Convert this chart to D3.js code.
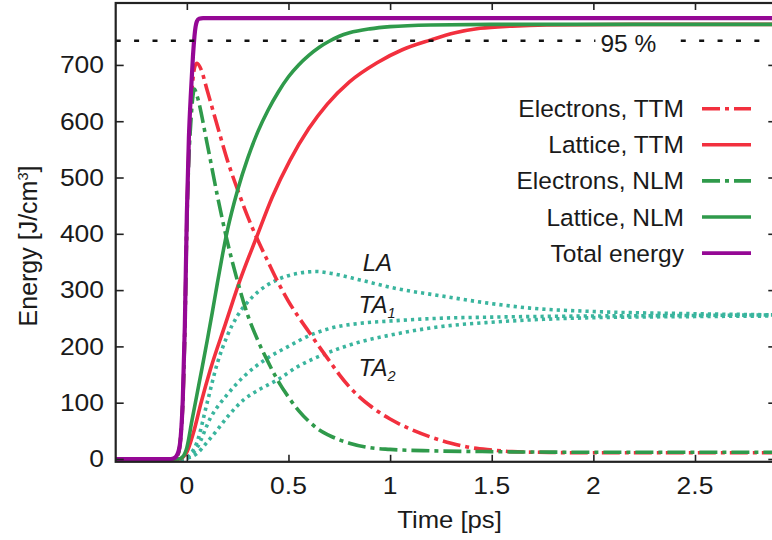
<!DOCTYPE html>
<html>
<head>
<meta charset="utf-8">
<script src="https://cdn.jsdelivr.net/npm/d3@7"></script>
<style>
  body { margin: 0; background: #fff; }
  svg { display: block; }
</style>
</head>
<body>
<svg id="chart" width="772" height="540"></svg>
<script>
// ---- data: energy [J/cm^3] vs time [ps] ----
const xTicks = [0, 0.5, 1, 1.5, 2, 2.5];
const xTickLabels = ["0", "0.5", "1", "1.5", "2", "2.5"];
const yTicks = [0, 100, 200, 300, 400, 500, 600, 700];
const yTickLabels = ["0", "100", "200", "300", "400", "500", "600", "700"];
const level95 = 743;
const level95Label = "95 %";

const electronsTTM = [[-0.35,0],[-0.06,0],[-0.04,12],[-0.03,40],[-0.02,100],[-0.01,228],[0,425],[0.01,550],[0.02,625],[0.03,675],[0.04,698],[0.05,703],[0.07,692],[0.1,655],[0.15,592],[0.2,530],[0.25,478],[0.3,430],[0.35,388],[0.4,350],[0.45,313],[0.5,280],[0.55,252],[0.6,226],[0.65,200],[0.7,175],[0.75,150],[0.8,128],[0.85,110],[0.9,95],[0.95,82],[1.0,71],[1.1,53],[1.2,39],[1.3,28],[1.4,20],[1.5,16],[1.6,13],[1.8,11.5],[2.0,11],[2.9,11]];
const latticeTTM = [[-0.35,0],[-0.04,0],[-0.02,3],[0,12],[0.032,46],[0.07,100],[0.115,158],[0.19,240],[0.262,318],[0.344,395],[0.42,465],[0.508,531],[0.6,587],[0.69,630],[0.8,670],[0.936,704],[1.06,727],[1.197,744],[1.32,757],[1.443,765],[1.6,769],[1.77,771],[2.2,772],[2.9,772]];
const electronsNLM = [[-0.35,0],[-0.06,0],[-0.04,12],[-0.03,40],[-0.02,100],[-0.01,225],[0,415],[0.01,535],[0.02,600],[0.03,645],[0.037,657],[0.05,645],[0.1,560],[0.15,468],[0.2,385],[0.25,315],[0.3,255],[0.35,210],[0.4,172],[0.45,138],[0.5,110],[0.55,86],[0.6,67],[0.65,52],[0.7,42],[0.8,28],[0.9,20],[1.0,17],[1.2,14.5],[1.5,13],[2.0,12],[2.9,12]];
const latticeNLM = [[-0.35,0],[-0.04,0],[-0.02,4],[0,20],[0.025,68],[0.05,115],[0.075,162],[0.1,210],[0.125,260],[0.15,312],[0.175,362],[0.2,407],[0.25,478],[0.3,535],[0.35,582],[0.4,620],[0.45,652],[0.5,679],[0.55,700],[0.6,717],[0.65,731],[0.7,742],[0.75,751],[0.8,757],[0.9,764],[1.0,768],[1.2,771],[1.5,772],[2.9,772]];
const totalEnergy = [[-0.35,0],[-0.08,0],[-0.06,2],[-0.04,15],[-0.03,40],[-0.02,105],[-0.01,235],[0,435],[0.01,570],[0.02,650],[0.03,715],[0.04,760],[0.05,778],[0.06,782],[0.08,783],[2.9,783]];
const phononLA = [[-0.35,0],[-0.02,0],[0,3],[0.05,30],[0.1,100],[0.15,170],[0.197,217],[0.25,255],[0.295,277],[0.35,297],[0.443,318],[0.55,330],[0.639,333],[0.705,330],[0.852,318],[1.0,305],[1.246,290],[1.5,276],[1.689,268],[2.0,262],[2.5,258],[2.9,256]];
const phononTA1 = [[-0.35,0],[-0.02,0],[0,2],[0.05,20],[0.115,72],[0.2,115],[0.279,146],[0.4,180],[0.5,200],[0.607,220],[0.705,232],[0.852,241],[1.0,245],[1.246,250],[1.5,252],[1.689,253],[2.0,254],[2.5,255],[2.9,256]];
const phononTA2 = [[-0.35,0],[-0.02,0],[0,1],[0.05,10],[0.1,30],[0.148,51],[0.2,75],[0.279,105],[0.35,122],[0.443,140],[0.55,165],[0.689,188],[0.852,208],[1.0,220],[1.246,235],[1.5,243],[1.689,247],[2.0,251],[2.5,253],[2.9,254]];

const legendNames = ["Electrons, TTM", "Lattice, TTM", "Electrons, NLM", "Lattice, NLM", "Total energy"];

// ---- styling ----
const RED = "#f2303e", GREEN = "#2f9a4b", PURPLE = "#950895", TEAL = "#3ab59e";
const FONT = "'Liberation Sans', Arial, Helvetica, sans-serif";
const DASHDOT = "18,5,4,5";

const plot = { left: 115.7, top: 3, right: 776.3, bottom: 461.8 };

const svg = d3.select("#chart");
const x = d3.scaleLinear().domain([-0.35, 2.9]).range([plot.left, plot.right]);
const y = d3.scaleLinear().domain([-5, 810]).range([plot.bottom, plot.top]);

svg.append("defs").append("clipPath").attr("id", "plotclip")
  .append("rect").attr("x", plot.left).attr("y", plot.top)
  .attr("width", plot.right - plot.left).attr("height", plot.bottom - plot.top);

// text placed at (px, py); sx widens the glyphs horizontally about the anchor
function label(parent, px, py, txt, anchor, size, sx) {
  return parent.append("text")
    .attr("transform", `translate(${px},${py}) scale(${sx || 1},1)`)
    .attr("text-anchor", anchor || "start")
    .attr("font-family", FONT)
    .attr("font-size", size)
    .attr("fill", "#1a1a1a")
    .text(txt);
}

// ---- curves ----
const line = d3.line().x(d => x(d[0])).y(d => y(d[1])).curve(d3.curveMonotoneX);
const curves = svg.append("g").attr("clip-path", "url(#plotclip)");

const series = [
  { data: phononLA,  color: TEAL,   dash: "3.2,4", width: 3.6 },
  { data: phononTA1, color: TEAL,   dash: "3.2,4", width: 3.6 },
  { data: phononTA2, color: TEAL,   dash: "3.2,4", width: 3.6 },
  { data: electronsTTM, color: RED,   dash: DASHDOT, width: 3.6 },
  { data: latticeTTM,   color: RED,   dash: null,    width: 3.6 },
  { data: electronsNLM, color: GREEN, dash: DASHDOT, width: 3.6 },
  { data: latticeNLM,   color: GREEN, dash: null,    width: 3.6 },
  { data: totalEnergy,  color: PURPLE, dash: null,   width: 4.2 }
];

// 95 % reference level, broken around its label
const g95 = svg.append("g");
[[plot.left, x(2.01)], [x(2.43), plot.right]].forEach(([a, b]) => {
  g95.append("line")
    .attr("x1", a).attr("x2", b).attr("y1", y(level95)).attr("y2", y(level95))
    .attr("stroke", "#111").attr("stroke-width", 2.4).attr("stroke-dasharray", "5,13.4");
});
label(g95, x(2.035), y(level95) + 11, level95Label, "start", 24.5);

series.forEach(s => {
  curves.append("path")
    .attr("d", line(s.data))
    .attr("fill", "none")
    .attr("stroke", s.color)
    .attr("stroke-width", s.width)
    .attr("stroke-dasharray", s.dash)
    .attr("stroke-linejoin", "round");
});

// ---- frame and axes ----
const axisColor = "#222";
const xAxisB = d3.axisBottom(x).tickValues(xTicks).tickSizeInner(-7).tickSizeOuter(0).tickFormat("");
const xAxisT = d3.axisTop(x).tickValues(xTicks).tickSizeInner(-7).tickSizeOuter(0).tickFormat("");
const yAxisL = d3.axisLeft(y).tickValues(yTicks).tickSizeInner(-8).tickSizeOuter(0).tickFormat("");
const yAxisR = d3.axisRight(y).tickValues(yTicks).tickSizeInner(-8).tickSizeOuter(0).tickFormat("");

[[xAxisB, `translate(0,${plot.bottom})`], [xAxisT, `translate(0,${plot.top})`],
 [yAxisL, `translate(${plot.left},0)`], [yAxisR, `translate(${plot.right},0)`]].forEach(([ax, tr]) => {
  const g = svg.append("g").attr("transform", tr).call(ax);
  g.select(".domain").remove();
  g.selectAll(".tick line").attr("stroke", axisColor).attr("stroke-width", 1.6);
});

svg.append("rect")
  .attr("x", plot.left).attr("y", plot.top)
  .attr("width", plot.right - plot.left).attr("height", plot.bottom - plot.top)
  .attr("fill", "none").attr("stroke", axisColor).attr("stroke-width", 2.2);

const labels = svg.append("g");
xTicks.forEach((t, i) => label(labels, x(t), 494, xTickLabels[i], "middle", 23, 1.15));
yTicks.forEach((v, i) => label(labels, 104, y(v) + 8.3, yTickLabels[i], "end", 23, 1.15));

// axis titles
label(labels, 449.5, 528, "Time [ps]", "middle", 24, 1.07);
const yTitle = labels.append("text")
  .attr("transform", "translate(37,246) rotate(-90)")
  .attr("text-anchor", "middle")
  .attr("font-family", FONT).attr("font-size", 25).attr("fill", "#1a1a1a");
yTitle.append("tspan").text("Energy [J/cm");
yTitle.append("tspan").attr("font-size", 14.5).attr("dy", -9.5).text("3");
yTitle.append("tspan").attr("dy", 9.5).text("]");

// phonon branch annotations
function branch(px, py, main, sub) {
  const t = labels.append("text")
    .attr("x", px).attr("y", py)
    .attr("font-family", FONT).attr("font-size", 24).attr("font-style", "italic")
    .attr("fill", "#1a1a1a");
  t.append("tspan").text(main);
  if (sub) t.append("tspan").attr("font-size", 14.5).attr("dy", 5).text(sub);
}
branch(x(0.865), 271, "LA");
branch(x(0.845), 313, "TA", "1");
branch(x(0.845), 376, "TA", "2");

// ---- legend ----
const legendStyles = [
  { color: RED, dash: DASHDOT }, { color: RED, dash: null },
  { color: GREEN, dash: DASHDOT }, { color: GREEN, dash: null },
  { color: PURPLE, dash: null }
];
const legend = svg.append("g");
legendNames.forEach((name, i) => {
  const ly = 108.7 + i * 36.1;
  label(legend, 684, ly + 8.5, name, "end", 24.5);
  legend.append("line")
    .attr("x1", 702).attr("x2", 751).attr("y1", ly).attr("y2", ly)
    .attr("stroke", legendStyles[i].color).attr("stroke-width", 3.6)
    .attr("stroke-dasharray", legendStyles[i].dash);
});
</script>
</body>
</html>
